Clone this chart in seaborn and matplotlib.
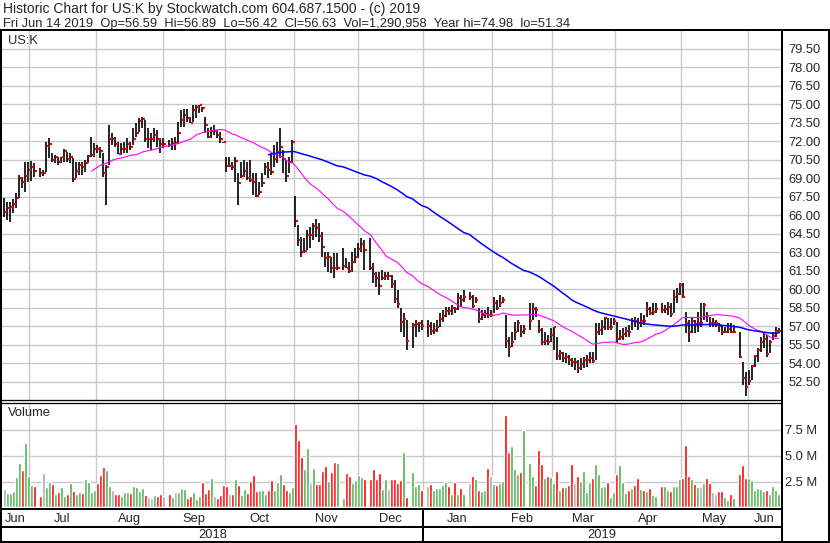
import numpy as np
import pandas as pd
import matplotlib
matplotlib.use("Agg")
import matplotlib.pyplot as plt
from matplotlib.lines import Line2D
import seaborn as sns

sns.set_style("white")
plt.rcParams['font.family'] = ['Liberation Sans', 'DejaVu Sans']

# every weekday gets a slot on the chart, market holidays stay empty (None)
dates = pd.bdate_range("2018-06-19", "2019-06-14")

high = [
    67.38, 67.05, 67.1, 67.3, 67.78, 69.27, 69.14, 70.35, 70.35, 70.4,
    70.2, None, 69.8, 69.68, 71.97, 72.3, 71.03, 70.9, 70.76, 70.76,
    71.38, 71.1, 71.03, 70.62, 70.35, 70.35, 70.35, 70.49, 70.9, 72.38,
    71.84, 71.7, 71.57, 71.03, 70.08, 73.32, 72.65, 72.38, 71.97, 71.84,
    71.97, 72.24, 71.97, 73.05, 73.46, 73.92, 74.0, 73.73, 73.05, 72.65,
    73.05, 72.92, 72.24, 72.24, None, 72.1, 72.24, 72.38, 73.6, 74.54,
    74.62, 74.62, 74.0, 74.95, 74.95, 74.98, 74.81, 74.0, 73.05, 73.19,
    73.32, 72.92, 72.78, 71.97, 70.76, 70.76, 70.35, 70.76, 69.41, 70.35,
    70.49, 70.35, 70.49, 69.41, 69.41, 68.73, 69.41, 70.22, 70.35, 71.03,
    71.7, 71.97, 73.05, 71.3, 70.49, 70.76, 72.1, 67.57, 65.22, 64.27,
    64.14, 64.81, 65.08, 65.35, 65.7, 65.35, 64.68, 63.05, 63.05, 62.65,
    62.92, 62.92, None, 63.32, 62.51, 62.24, 63.05, 63.32, 63.73, 64.14,
    64.0, None, 64.14, 62.1, 61.43, 61.43, 61.57, 61.43, 61.43, 61.16,
    60.76, 59.93, 58.45, 58.04, 57.5, None, 57.23, 57.5, 57.36, 57.5,
    None, 57.5, 57.36, 57.23, 57.5, 58.04, 58.31, 58.58, 58.58, 58.72,
    58.58, 59.66, 59.53, 59.93, None, 59.8, 59.53, 59.39, 58.45, 58.31,
    58.31, 58.58, 58.31, 59.39, 59.12, 59.53, 59.39, 57.9, 56.15, 56.55,
    57.36, 57.5, 57.1, 57.1, None, 58.86, 58.92, 58.6, 57.51, 56.84,
    56.57, 56.3, 56.84, 56.97, 56.16, 55.08, 54.95, 54.81, 54.68, 54.41,
    54.41, 54.27, 54.41, 54.54, 54.68, 54.95, 54.95, 57.24, 57.24, 57.51,
    57.78, 57.65, 57.65, 57.65, 57.38, 56.7, 56.84, 56.97, 57.1, 57.65,
    57.78, 57.65, 58.05, 57.92, 59.0, 58.6, 58.86, 58.86, None, 58.86,
    58.73, 59.0, 58.86, 59.95, 60.08, 60.49, 60.49, 58.19, 57.51, 57.78,
    57.51, 58.19, 58.86, 58.86, 58.19, 57.78, 57.65, 57.51, 57.24, 57.1,
    56.97, 57.24, 57.24, 57.1, None, 56.57, 54.14, 53.32, 53.46, 53.86,
    54.68, 55.22, 56.16, 56.57, 56.3, 55.89, 56.57, 56.92, 56.89,
]

low = [
    65.89, 65.62, 65.49, 66.16, 66.57, 67.38, 68.19, 67.86, 68.73, 68.78,
    69.14, None, 69.14, 69.22, 69.54, 70.62, 70.35, 70.2, 70.08, 70.2,
    70.35, 70.35, 70.2, 68.73, 69.0, 69.27, 69.27, 69.54, 70.2, 70.76,
    70.76, 71.03, 70.62, 69.14, 66.84, 70.08, 71.7, 71.57, 70.95, 70.9,
    71.03, 71.03, 71.3, 71.7, 72.38, 72.78, 73.05, 71.97, 71.43, 71.3,
    71.97, 71.57, 71.03, 71.43, None, 71.57, 71.3, 71.3, 71.84, 73.19,
    73.19, 73.6, 73.46, 73.6, 73.86, 74.27, 74.4, 72.65, 72.24, 72.24,
    72.51, 72.24, 71.84, 71.84, 69.54, 69.95, 69.68, 68.73, 66.84, 69.0,
    69.14, 68.86, 68.73, 67.65, 67.51, 67.65, 68.32, 69.27, 69.0, 69.27,
    69.95, 70.22, 70.62, 69.4, 68.73, 69.4, 70.22, 65.03, 63.51, 62.6,
    62.92, 63.19, 63.32, 64.0, 64.27, 63.86, 62.65, 61.84, 61.43, 61.3,
    60.89, 61.57, None, 61.57, 61.7, 61.3, 61.43, 62.1, 62.51, 63.05,
    61.57, None, 61.57, 60.49, 60.22, 59.54, 60.76, 60.76, 60.76, 60.08,
    58.86, 58.45, 56.55, 56.15, 55.07, None, 55.2, 56.15, 56.55, 56.69,
    None, 56.15, 56.28, 56.4, 56.55, 56.96, 57.36, 57.77, 57.9, 57.9,
    58.04, 58.31, 58.58, 58.99, None, 59.12, 58.45, 58.85, 57.23, 57.5,
    57.63, 57.63, 57.77, 58.04, 58.31, 58.58, 58.85, 55.2, 54.53, 55.34,
    55.88, 56.55, 56.15, 56.4, None, 56.7, 57.51, 57.78, 56.43, 55.49,
    55.49, 55.49, 55.76, 55.08, 54.27, 54.27, 54.14, 54.0, 53.86, 53.73,
    53.46, 53.19, 53.46, 53.59, 53.73, 54.0, 54.0, 54.27, 56.3, 56.3,
    56.7, 56.7, 56.7, 57.1, 55.62, 55.89, 55.89, 56.16, 56.16, 56.7,
    56.97, 56.7, 56.97, 57.1, 57.78, 57.92, 57.9, 58.05, None, 58.05,
    58.1, 57.92, 57.78, 58.05, 58.86, 59.54, 59.27, 56.43, 55.76, 56.43,
    56.43, 56.57, 56.97, 57.51, 57.38, 56.97, 56.97, 56.97, 56.57, 56.3,
    56.43, 56.43, 56.43, 56.43, None, 54.41, 52.24, 51.34, 52.24, 52.65,
    53.73, 54.14, 54.95, 55.22, 54.54, 54.81, 55.89, 56.16, 56.42,
]

close = [
    66.3, 66.62, 66.7, 66.9, 67.4, 69.05, 68.7, 69.2, 69.7, 69.9,
    69.6, None, 69.4, 69.4, 71.6, 71.8, 70.5, 70.7, 70.35, 70.7,
    71.2, 70.6, 70.7, 68.9, 69.6, 70.1, 69.9, 70.2, 70.8, 70.9,
    71.4, 71.35, 71.2, 69.4, 69.9, 72.2, 72.2, 71.8, 71.0, 71.35,
    71.4, 71.75, 71.5, 72.2, 72.7, 73.65, 73.8, 72.2, 72.2, 72.2,
    72.5, 72.2, 71.8, 71.8, None, 71.7, 71.85, 71.85, 72.7, 73.7,
    74.1, 73.9, 73.5, 74.5, 74.8, 74.9, 74.7, 73.3, 72.35, 72.8,
    72.8, 72.5, 72.2, 71.9, 70.0, 70.0, 69.95, 70.4, 68.6, 69.2,
    69.55, 69.0, 68.85, 68.7, 67.6, 67.9, 68.6, 69.9, 69.7, 69.5,
    70.6, 71.1, 71.5, 70.6, 69.15, 70.3, 71.9, 65.5, 64.0, 63.05,
    63.1, 64.4, 64.4, 65.1, 65.0, 64.3, 63.45, 62.5, 62.6, 61.75,
    61.7, 61.75, None, 61.9, 61.75, 61.5, 62.25, 62.65, 63.3, 63.7,
    63.15, None, 61.75, 61.25, 60.9, 60.3, 60.9, 61.1, 61.1, 60.4,
    59.25, 58.77, 57.34, 57.6, 55.8, None, 57.1, 57.2, 57.3, 57.0,
    None, 57.0, 56.6, 56.7, 56.95, 57.6, 57.85, 58.25, 58.2, 58.45,
    58.4, 59.3, 59.1, 59.4, None, 59.4, 58.66, 59.1, 57.6, 57.9,
    57.99, 57.9, 57.9, 58.85, 58.5, 58.9, 59.1, 55.8, 55.3, 55.7,
    56.55, 57.3, 56.55, 56.8, None, 57.46, 58.4, 58.3, 56.7, 55.75,
    55.8, 55.75, 56.25, 56.9, 54.6, 54.8, 54.46, 54.5, 54.27, 54.14,
    54.14, 53.6, 53.95, 54.27, 54.3, 54.4, 54.16, 56.57, 56.7, 56.9,
    57.65, 56.9, 56.97, 57.4, 55.97, 56.16, 56.4, 56.65, 56.57, 57.46,
    57.4, 57.24, 57.46, 57.4, 58.4, 58.1, 58.14, 58.4, None, 58.3,
    58.4, 58.6, 57.97, 59.4, 59.6, 60.35, 59.4, 57.3, 56.5, 57.4,
    57.2, 57.3, 57.3, 58.7, 57.8, 57.3, 57.3, 57.3, 57.0, 56.5,
    56.57, 56.8, 56.5, 56.57, None, 54.54, 52.84, 52.1, 52.6, 53.8,
    54.6, 55.1, 55.76, 55.97, 54.76, 55.7, 56.24, 56.6, 56.63,
]

# volume in millions of shares
volume = [
    1.77, 1.42, 1.42, 1.58, 2.9, 4.26, 3.6, 6.2, 3.0, 2.16,
    2.06, None, 1.1, 3.3, 1.94, 2.45, 2.26, 1.29, 1.52, 1.94,
    1.1, 1.29, 2.32, 1.61, 1.29, 1.48, 1.42, 2.74, 2.45, 1.48,
    1.68, 2.32, 3.13, 3.87, 3.6, 2.06, 1.68, 1.29, 1.35, 1.1,
    1.48, 1.48, 1.42, 2.06, 1.94, 1.55, 1.87, 1.19, 1.0, 0.94,
    1.16, 1.13, 1.26, 1.13, None, 1.29, 1.03, 1.48, 1.48, 1.87,
    1.77, 0.94, 1.1, 1.52, 0.84, 1.13, 2.45, 1.42, 1.77, 2.87,
    1.1, 0.94, 1.19, 2.16, 2.06, 1.35, 1.35, 2.74, 2.16, 1.19,
    1.77, 1.42, 2.58, 3.13, 1.61, 1.68, 1.68, 1.29, 1.68, 2.65,
    1.68, 2.45, 3.23, 2.26, 1.68, 1.48, 1.94, 8.06, 6.52, 4.84,
    3.71, 5.71, 2.39, 3.77, 2.26, 2.26, 3.52, 4.0, 2.58, 3.45,
    4.39, 4.26, None, 0.94, 3.35, 3.03, 2.39, 2.65, 3.13, 2.94,
    2.74, None, 2.74, 3.71, 2.74, 3.35, 1.77, 2.74, 1.77, 2.74,
    2.74, 2.39, 2.65, 5.39, 1.03, None, 3.45, 2.06, 2.3, 1.68,
    None, 2.06, 2.26, 1.68, 1.84, 1.84, 2.13, 2.42, 2.06, 1.35,
    2.42, 1.35, 1.84, 1.26, None, 2.32, 3.03, 2.74, 1.68, 1.61,
    1.68, 3.77, 3.03, 2.23, 2.13, 2.32, 2.58, 8.94, 5.32, 5.94,
    3.71, 3.23, 3.42, 7.48, None, 4.3, 3.0, 2.16, 5.6, 4.2,
    2.84, 3.03, 2.94, 2.39, 3.52, 1.68, 1.94, 1.94, 2.16, 4.2,
    2.32, 3.03, 2.55, 3.52, 1.52, 2.48, 2.84, 4.2, 3.23, 1.94,
    2.06, 2.45, 0.97, 1.52, 3.23, 4.1, 2.45, 1.39, 1.68, 1.84,
    2.16, 2.84, 1.77, 1.68, 1.61, 1.84, 1.19, 1.1, None, 2.06,
    2.06, 1.68, 1.58, 2.06, 2.06, 2.74, 2.87, 6.03, 3.03, 2.74,
    2.26, 1.94, 1.94, 2.32, 2.84, 2.32, 1.48, 1.29, 1.58, 1.58,
    0.97, 0.71, 1.29, 0.9, None, 3.23, 4.1, 2.84, 2.84, 2.65,
    1.68, 1.87, 1.74, 1.58, 1.68, 1.35, 2.06, 1.68, 1.29,
]

price_ticks = [52.5, 54.0, 55.5, 57.0, 58.5, 60.0, 61.5, 63.0, 64.5, 66.0,
               67.5, 69.0, 70.5, 72.0, 73.5, 75.0, 76.5, 78.0, 79.5]
volume_ticks = [2.5, 5.0, 7.5]
month_starts = pd.date_range("2018-07-01", "2019-06-01", freq="MS")

title_1 = "Historic Chart for US:K by Stockwatch.com 604.687.1500 - (c) 2019"
title_2 = ("Fri Jun 14 2019  Op=56.59  Hi=56.89  Lo=56.42  Cl=56.63  "
           "Vol=1,290,958  Year hi=74.98  lo=51.34")

df = pd.DataFrame({"date": dates, "slot": np.arange(len(dates)),
                   "high": high, "low": low, "close": close, "volume": volume})
td = df.dropna().reset_index(drop=True)
td["ma_short"] = td["close"].rolling(29).mean()
td["ma_long"] = td["close"].rolling(87).mean()
chg = td["close"].diff().fillna(0)
GREEN, RED, GREY = "#4caf50", "#ff0000", "#a8a8a8"
vol_colors = np.where(chg > 0.005, GREEN, np.where(chg < -0.005, RED, GREY))

# month gridlines sit at the calendar position of the 1st of each month
ords = np.array([d.toordinal() for d in dates])
grid_x = np.interp([d.toordinal() for d in month_starts], ords, df["slot"]) - 0.5

W, H = 830, 543
fig = plt.figure(figsize=(W / 100, H / 100), dpi=100)
fig.patch.set_facecolor("white")


def box(x0, y0, x1, y1):
    return [x0 / W, 1 - y1 / H, (x1 - x0) / W, (y1 - y0) / H]


XL = (-0.83, 258.83)
GRID = "#c8c8c8"
FS = 9.3

ax_p = fig.add_axes(box(2, 31, 781, 400))
ax_v = fig.add_axes(box(2, 404, 781, 508))
ax_m = fig.add_axes(box(2, 510, 781, 526))
ax_y = fig.add_axes(box(2, 527, 781, 542))

for ax in (ax_p, ax_v, ax_m, ax_y):
    ax.set_xlim(*XL)
    for s in ax.spines.values():
        s.set_visible(False)
    ax.set_xticks([])
    ax.set_facecolor("white")

# price panel
ax_p.set_ylim(51.02, 80.94)
for y in price_ticks:
    ax_p.axhline(y, color=GRID, lw=1.0, zorder=0)
for gx in grid_x:
    ax_p.axvline(gx, color=GRID, lw=1.0, zorder=0)
ax_p.vlines(td["slot"], td["low"], td["high"], color="black", lw=1.2, zorder=2)
ax_p.hlines(td["close"], td["slot"] + 0.2, td["slot"] + 0.9, color="red", lw=1.6, zorder=3)
sns.lineplot(x=td["slot"], y=td["ma_short"], ax=ax_p, color="#ff00ff", lw=0.8, zorder=4)
sns.lineplot(x=td["slot"], y=td["ma_long"], ax=ax_p, color="#0000ff", lw=1.1, zorder=4)
ax_p.yaxis.tick_right()
ax_p.set_yticks(price_ticks)
ax_p.set_yticklabels([f"{t:.2f}" for t in price_ticks], fontsize=FS)
ax_p.tick_params(axis="y", length=0, pad=5.5)
ax_p.set_xlabel("")
ax_p.set_ylabel("")

# volume panel
ax_v.set_ylim(-0.05, 10.0)
for y in volume_ticks:
    ax_v.axhline(y, color=GRID, lw=1.0, zorder=0)
for gx in grid_x:
    ax_v.axvline(gx, color=GRID, lw=1.0, zorder=0)
ax_v.bar(td["slot"], td["volume"], width=0.68, color=vol_colors, zorder=2)
ax_v.yaxis.tick_right()
ax_v.set_yticks(volume_ticks)
ax_v.set_yticklabels([f"{t:.1f} M" for t in volume_ticks], fontsize=FS)
ax_v.tick_params(axis="y", length=0, pad=3)

# month and year bands
ax_m.set_yticks([])
ax_y.set_yticks([])
edges = [XL[0]] + list(grid_x) + [XL[1]]
labels = ["Jun"] + [d.strftime("%b") for d in month_starts]
for lab, a, b in zip(labels, edges[:-1], edges[1:]):
    ax_m.text((a + b) / 2, 0.45, lab, ha="center", va="center", fontsize=FS)
jan = grid_x[list(month_starts.month).index(1)]
ax_y.text((XL[0] + jan) / 2, 0.45, "2018", ha="center", va="center", fontsize=FS)
ax_y.text((jan + XL[1]) / 2, 0.45, "2019", ha="center", va="center", fontsize=FS)

# frame lines drawn in figure pixels


def fline(x0, y0, x1, y1, lw=2.0):
    fig.add_artist(Line2D([x0 / W, x1 / W], [1 - y0 / H, 1 - y1 / H],
                          color="black", lw=lw * 0.72, solid_capstyle="butt"))


fline(0, 29.5, 830, 29.5)
fline(1, 29.5, 1, 543)
fline(782, 29.5, 782, 543)
fline(829, 29.5, 829, 543)
fline(0, 542, 830, 542)
fline(0, 400.3, 782, 400.3, 1.3)
fline(0, 402.8, 782, 402.8, 1.3)
fline(0, 509.2, 782, 509.2)
fline(0, 526.5, 782, 526.5)
jan_px = 2 + (jan - XL[0]) / (XL[1] - XL[0]) * 779
fline(jan_px, 509, jan_px, 543)

fig.text(3 / W, 1 - 8.5 / H, title_1, fontsize=10.0, va="center", ha="left")
fig.text(3 / W, 1 - 23.5 / H, title_2, fontsize=FS, va="center", ha="left")
fig.text(8 / W, 1 - 41 / H, "US:K", fontsize=FS, va="center", ha="left")
fig.text(8 / W, 1 - 413 / H, "Volume", fontsize=FS, va="center", ha="left")

fig.savefig("out.png", dpi=100, facecolor="white")
